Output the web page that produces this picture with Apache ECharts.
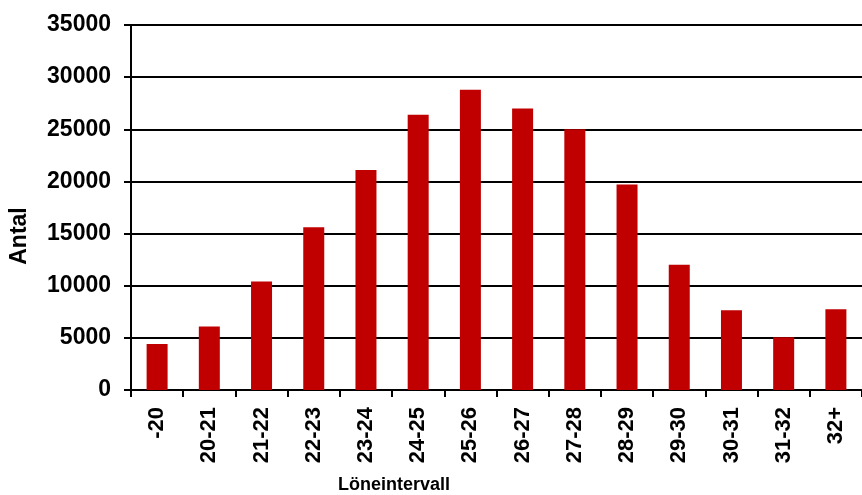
<!DOCTYPE html>
<html>
<head>
<meta charset="utf-8">
<script src="https://cdn.jsdelivr.net/npm/echarts@6/dist/echarts.min.js"></script>
<style>html,body{margin:0;padding:0;background:#fff}#c{width:862px;height:495px}</style>
</head>
<body>
<div id="c"></div>
<script>
const categories = ["-20","20-21","21-22","22-23","23-24","24-25","25-26","26-27","27-28","28-29","29-30","30-31","31-32","32+"];
const antal = [4400, 6100, 10400, 15600, 21100, 26400, 28800, 27000, 25000, 19700, 12000, 7650, 5050, 7750];
const yTicks = {min: 0, max: 35000, interval: 5000};
const yName = "Antal";
const xName = "Löneintervall";

const font = "Liberation Sans";
const chart = echarts.init(document.getElementById('c'), null, {renderer: 'canvas'});
chart.setOption({
  animation: false,
  backgroundColor: '#fff',
  grid: {left: 131, top: 25, right: 0, bottom: 105, containLabel: false},
  xAxis: {
    type: 'category',
    data: categories,
    boundaryGap: true,
    axisLine: {lineStyle: {color: '#000', width: 2}},
    axisTick: {show: true, alignWithLabel: false, length: 7, lineStyle: {color: '#000', width: 2}},
    axisLabel: {rotate: 90, interval: 0, margin: 17, color: '#000', fontFamily: font, fontWeight: 'bold', fontSize: 22}
  },
  yAxis: {
    type: 'value',
    min: yTicks.min, max: yTicks.max, interval: yTicks.interval,
    axisLine: {show: true, lineStyle: {color: '#000', width: 2}},
    axisTick: {show: true, length: 7, lineStyle: {color: '#000', width: 2}},
    splitLine: {show: true, lineStyle: {color: '#000', width: 1.8}},
    axisLabel: {margin: 20, color: '#000', fontFamily: font, fontWeight: 'bold', fontSize: 23,
      formatter: function (v) { return String(v); }}
  },
  graphic: [
    {type: 'text', rotation: Math.PI/2, x: 20, y: 236,
      style: {text: yName, fill: '#000', font: "bold 23px 'Liberation Sans'", textAlign: 'center', textVerticalAlign: 'middle'}},
    {type: 'text', x: 394, y: 485,
      style: {text: xName, fill: '#000', font: "bold 18px 'Liberation Sans'", textAlign: 'center', textVerticalAlign: 'middle'}}
  ],
  series: [{
    type: 'bar',
    data: antal,
    barWidth: 21,
    itemStyle: {color: '#C00000'}
  }]
});
</script>
</body>
</html>
